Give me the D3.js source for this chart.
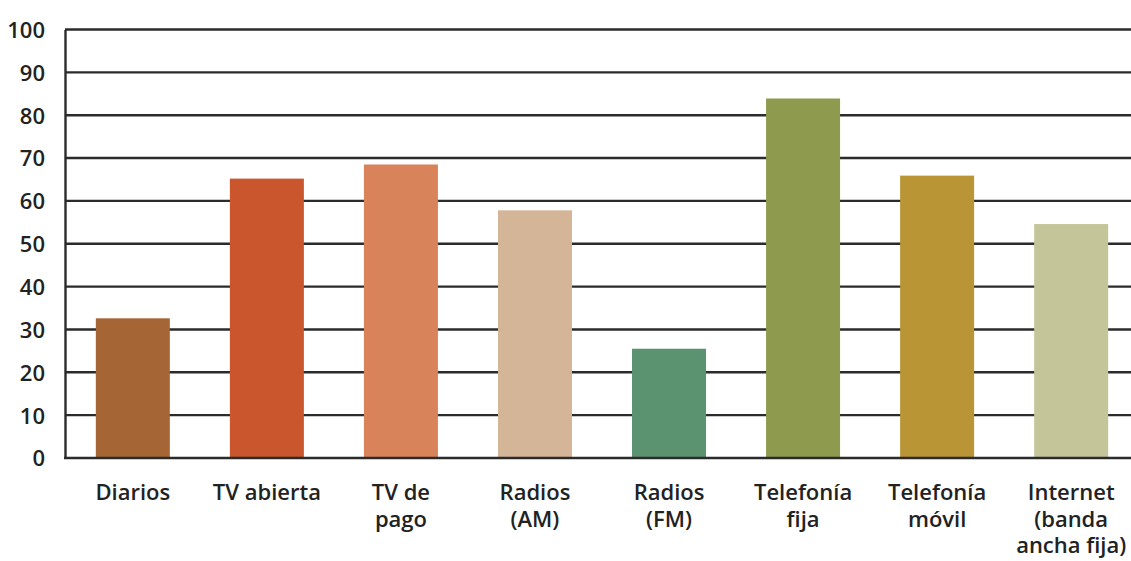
<!DOCTYPE html>
<html>
<head>
<meta charset="utf-8">
<script src="https://cdn.jsdelivr.net/npm/d3@7/dist/d3.min.js"></script>
<style>
  html, body { margin: 0; padding: 0; background: #fff; }
  svg { display: block; }
  text { font-family: "Open Sans", "DejaVu Sans", sans-serif; fill: #222; }
</style>
</head>
<body>
<script>
const categories = [
  ["Diarios"],
  ["TV abierta"],
  ["TV de", "pago"],
  ["Radios", "(AM)"],
  ["Radios", "(FM)"],
  ["Telefonía", "fija"],
  ["Telefonía", "móvil"],
  ["Internet", "(banda", "ancha fija)"]
];
const values = [32.6, 65.2, 68.5, 57.8, 25.5, 83.9, 65.9, 54.6];
const colors = ["#A56535", "#C9562C", "#D8835A", "#D5B597", "#5B9270", "#8E9A4D", "#B99536", "#C4C69A"];
const yTicks = [0, 10, 20, 30, 40, 50, 60, 70, 80, 90, 100];

(function() {
const W = 1131, H = 561;
const mLeft = 65, mRight = 1131, mTop = 29.5, mBottom = 458;

const svg = d3.select("body").append("svg").attr("width", W).attr("height", H);

const keys = categories.map((c, i) => String(i));
const x = d3.scaleBand().domain(keys).range([mLeft, 1139]).paddingInner(0.448).paddingOuter(0.23);
const y = d3.scaleLinear().domain([0, 100]).range([mBottom, mTop]);

// gridlines
svg.append("g").selectAll("line").data(yTicks.filter(t => t > 0)).join("line")
  .attr("x1", mLeft).attr("x2", mRight)
  .attr("y1", d => y(d)).attr("y2", d => y(d))
  .attr("stroke", "#2b2b2b").attr("stroke-width", 2.4);

// bars
svg.append("g").selectAll("rect").data(values).join("rect")
  .attr("x", (d, i) => x(keys[i]))
  .attr("width", x.bandwidth())
  .attr("y", d => y(d))
  .attr("height", d => y(0) - y(d))
  .attr("fill", (d, i) => colors[i]);

// y axis
const yAxis = d3.axisLeft(y).tickValues(yTicks).tickSize(0).tickPadding(20);
const gy = svg.append("g").attr("transform", `translate(${mLeft},0)`).call(yAxis);
gy.select(".domain").attr("stroke", "#2b2b2b").attr("stroke-width", 2.4);
gy.selectAll("text").attr("font-size", 22).attr("font-weight", 600).attr("fill", "#222")
  .attr("font-family", "'Open Sans', sans-serif").attr("dy", "0.36em");

// baseline
svg.append("line").attr("x1", mLeft - 1).attr("x2", mRight).attr("y1", y(0)).attr("y2", y(0))
  .attr("stroke", "#2b2b2b").attr("stroke-width", 2.4);

// x labels
const lab = svg.append("g").selectAll("text").data(categories).join("text")
  .attr("text-anchor", "middle")
  .attr("font-size", 22).attr("font-weight", 600)
  .attr("x", (d, i) => x(keys[i]) + x.bandwidth() / 2)
  .attr("y", 500);
lab.selectAll("tspan").data(d => d).join("tspan")
  .attr("x", function() { return d3.select(this.parentNode).attr("x"); })
  .attr("dy", (d, j) => j === 0 ? 0 : 26.5)
  .text(d => d);
})();
</script>
</body>
</html>
